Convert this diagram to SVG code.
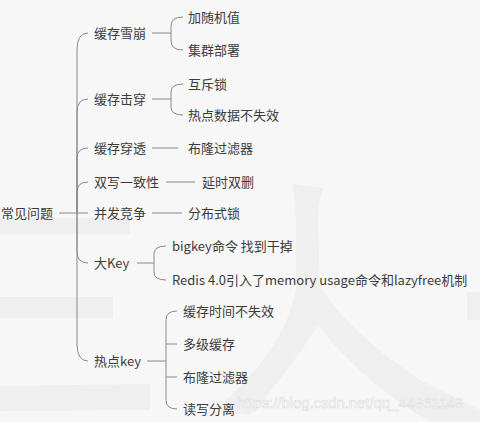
<svg xmlns="http://www.w3.org/2000/svg" width="480" height="422" viewBox="0 0 480 422">
<style>
.t{font-family:"Noto Sans CJK SC","Noto Sans",sans-serif;font-size:13px;fill:#3c3c3c}
.c{fill:none;stroke:#8a8a8a;stroke-width:1}
.wm{fill:#efefef}
</style>
<rect width="480" height="422" fill="#f7f7f7"/>
<g id="watermark">
<rect class="wm" x="0" y="218" width="130" height="16"/>
<rect class="wm" x="0" y="297" width="113" height="21"/>
<path class="wm" d="M0,386 L150,384 L150,410 L0,411 Z"/>
<path class="wm" d="M293,184 L324,188 Q318,200 318,220 L320,285 Q345,330 420,380 L480,410 L480,422 L430,422 Q360,380 318,325 Q290,370 250,415 L215,410 Q285,350 296,290 L296,220 Z"/>
<rect class="wm" x="467" y="292" width="13" height="28"/>
<text x="237" y="408" style="font-family:'Liberation Sans',Arial,sans-serif;font-size:14.8px;fill:#ffffff;stroke:#dddddd;stroke-width:0.6">https://blog.csdn.net/qq_44961149</text>
</g>
<g id="connectors">
<path class="c" d="M59,213 H88"/>
<path class="c" d="M77,213 V50 Q77,33 88,33"/>
<path class="c" d="M77,213 V112 Q77,99 88,99"/>
<path class="c" d="M77,213 V158 Q77,148 88,148"/>
<path class="c" d="M77,213 V192 Q77,182 88,182"/>
<path class="c" d="M77,213 V252 Q77,263 88,263"/>
<path class="c" d="M77,213 V344 Q77,361 88,361"/>
<path class="c" d="M152,33 H171"/>
<path class="c" d="M183,17 Q171,17 171,26 V41 Q171,50 183,50"/>
<path class="c" d="M152,99 H171"/>
<path class="c" d="M183,84 Q171,84 171,92 V107 Q171,115 183,115"/>
<path class="c" d="M152,148 H178"/>
<path class="c" d="M166,182 H195"/>
<path class="c" d="M152,213 H182"/>
<path class="c" d="M137,263 H154"/>
<path class="c" d="M166,246 Q154,246 154,254 V272 Q154,280 166,280"/>
<path class="c" d="M147,361 H166"/>
<path class="c" d="M177,311 Q166,311 166,320 V400 Q166,409 177,409"/>
<path class="c" d="M166,344 H177"/>
<path class="c" d="M166,377 H177"/>
</g>
<g id="root"><text class="t" x="1" y="218">常见问题</text></g>
<g id="n1"><text class="t" x="94" y="38">缓存雪崩</text></g>
<g id="n1a"><text class="t" x="188" y="22">加随机值</text></g>
<g id="n1b"><text class="t" x="188" y="55">集群部署</text></g>
<g id="n2"><text class="t" x="94" y="104">缓存击穿</text></g>
<g id="n2a"><text class="t" x="188" y="89">互斥锁</text></g>
<g id="n2b"><text class="t" x="188" y="120">热点数据不失效</text></g>
<g id="n3"><text class="t" x="94" y="153">缓存穿透</text></g>
<g id="n3a"><text class="t" x="188" y="153">布隆过滤器</text></g>
<g id="n4"><text class="t" x="94" y="187">双写一致性</text></g>
<g id="n4a"><text class="t" x="202" y="187">延时双删</text></g>
<g id="n5"><text class="t" x="94" y="218">并发竞争</text></g>
<g id="n5a"><text class="t" x="188" y="218">分布式锁</text></g>
<g id="n6"><text class="t" x="94" y="268">大Key</text></g>
<g id="n6a"><text class="t" x="172" y="251">bigkey命令 找到干掉</text></g>
<g id="n6b"><text class="t" x="172" y="285">Redis 4.0引入了memory usage命令和lazyfree机制</text></g>
<g id="n7"><text class="t" x="94" y="366">热点key</text></g>
<g id="n7a"><text class="t" x="183" y="316">缓存时间不失效</text></g>
<g id="n7b"><text class="t" x="183" y="349">多级缓存</text></g>
<g id="n7c"><text class="t" x="183" y="382">布隆过滤器</text></g>
<g id="n7d"><text class="t" x="183" y="414">读写分离</text></g>
</svg>
